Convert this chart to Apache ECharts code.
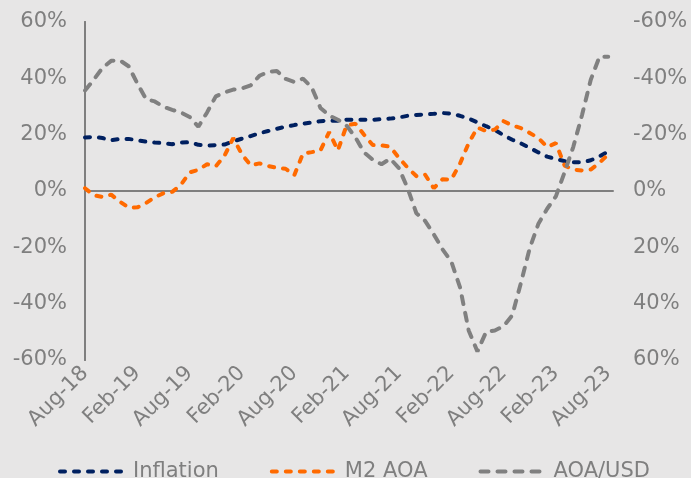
<!DOCTYPE html>
<html>
<head>
<meta charset="utf-8">
<script src="https://cdn.jsdelivr.net/npm/echarts@6/dist/echarts.min.js"></script>
<style>
html,body{margin:0;padding:0;background:#e7e6e6;}
#chart{width:691px;height:478px;}
</style>
</head>
<body>
<div id="chart"></div>
<script>
var months = ['Aug-18','Sep-18','Oct-18','Nov-18','Dec-18','Jan-19','Feb-19','Mar-19','Apr-19','May-19','Jun-19','Jul-19',
'Aug-19','Sep-19','Oct-19','Nov-19','Dec-19','Jan-20','Feb-20','Mar-20','Apr-20','May-20','Jun-20','Jul-20',
'Aug-20','Sep-20','Oct-20','Nov-20','Dec-20','Jan-21','Feb-21','Mar-21','Apr-21','May-21','Jun-21','Jul-21',
'Aug-21','Sep-21','Oct-21','Nov-21','Dec-21','Jan-22','Feb-22','Mar-22','Apr-22','May-22','Jun-22','Jul-22',
'Aug-22','Sep-22','Oct-22','Nov-22','Dec-22','Jan-23','Feb-23','Mar-23','Apr-23','May-23','Jun-23','Jul-23','Aug-23'];

var inflation = [19.0,19.2,18.8,18.0,18.5,18.5,18.0,17.5,17.2,17.0,
16.6,17.2,17.3,16.4,16.1,16.3,16.5,17.6,18.6,19.5,
20.5,21.3,22.1,22.8,23.4,23.9,24.3,24.8,25.0,24.9,
25.3,25.3,25.3,25.3,25.5,25.7,26.1,26.7,27.0,27.2,
27.4,27.7,27.4,26.7,25.7,24.4,23.0,21.7,19.8,18.2,
16.9,15.3,13.7,12.2,11.4,10.6,10.2,10.2,10.9,12.3,14.0];

var m2aoa = [1.0,-1.5,-2.1,-1.3,-3.8,-5.9,-5.8,-4.3,-2.2,-0.8,
-0.3,2.2,6.6,7.5,9.5,8.8,12.5,18.8,13.0,9.1,
9.8,8.9,8.2,7.9,5.6,13.3,13.8,14.4,20.9,14.4,
23.3,23.9,20.0,16.3,16.2,15.7,11.8,8.3,5.3,5.8,
1.0,4.2,4.0,9.7,17.0,22.5,21.3,21.8,24.8,23.3,
22.3,20.6,18.8,15.6,17.0,9.0,7.6,7.3,7.6,10.0,13.0];

// right axis (inverted) values
var aoaUsd = [-35.7,-39.5,-43.7,-46.2,-46.4,-44.3,-38.2,-32.6,-31.8,-29.9,
-28.8,-27.9,-26.3,-22.8,-27.9,-33.6,-35.0,-36.0,-36.4,-37.5,
-40.9,-42.3,-42.6,-39.8,-38.7,-39.9,-36.8,-29.5,-26.8,-25.3,
-23.2,-19.1,-13.7,-11.1,-9.5,-11.5,-8.1,-1.0,7.9,10.6,
15.4,20.7,25.0,34.1,49.5,57.0,50.0,49.5,48.0,44.1,
32.5,20.3,11.6,6.3,1.9,-6.7,-15.7,-27.0,-39.5,-47.7,-47.7];

var yTicks = {min:-60, max:60, step:20};
var labelStep = 6;

function pairs(arr){ return arr.map(function(v,i){ return [i, v]; }); }

var grey = '#7f7f7f';
var font = 'DejaVu Sans';
var xMax = 60.55;

var chart = echarts.init(document.getElementById('chart'), null, {renderer:'canvas'});
chart.setOption({
  backgroundColor: '#e7e6e6',
  animation: false,
  grid: {left:85, right:78, top:22, bottom:118, containLabel:false},
  legend: {
    left: 53, top: 456, itemGap: 51, itemWidth: 68, itemHeight: 14,
    itemStyle: {opacity: 0},
    lineStyle: {width: 4, cap: 'round'},
    textStyle: {fontSize:21, color:grey, fontFamily:font},
    data: ['Inflation','M2 AOA','AOA/USD']
  },
  xAxis: [{
    type:'value', min:0, max:xMax, interval:labelStep,
    position:'bottom',
    axisLine:{show:false, onZero:false},
    axisTick:{show:false},
    splitLine:{show:false},
    axisLabel:{
      rotate:45, margin:10, fontSize:21, color:grey, fontFamily:font,
      showMaxLabel:false,
      formatter:function(v){
        var i = Math.round(v);
        if (Math.abs(v-i) > 1e-6 || i % labelStep !== 0 || !months[i]) return '';
        return months[i];
      }
    }
  },{
    type:'value', min:0, max:xMax, interval:labelStep,
    axisLine:{show:true, onZero:true, lineStyle:{color:grey, width:2}},
    axisTick:{show:false}, axisLabel:{show:false}, splitLine:{show:false}
  }],
  yAxis: [{
    type:'value', min:yTicks.min, max:yTicks.max, interval:yTicks.step, position:'left',
    axisLine:{show:true, lineStyle:{color:grey, width:2}},
    axisTick:{show:false}, splitLine:{show:false},
    axisLabel:{margin:18, fontSize:21, color:grey, fontFamily:font, formatter:function(v){return v+'%';}}
  },{
    type:'value', min:yTicks.min, max:yTicks.max, interval:yTicks.step, position:'right', inverse:true,
    axisLine:{show:true, lineStyle:{color:grey, width:2}},
    axisTick:{show:false}, splitLine:{show:false},
    axisLabel:{margin:20, fontSize:21, color:grey, fontFamily:font, formatter:function(v){return v+'%';}}
  }],
  series: [{
    name:'Inflation', type:'line', data:pairs(inflation), xAxisIndex:0, yAxisIndex:0,
    symbol:'none', smooth:false, color:'#002060',
    lineStyle:{color:'#002060', width:4, type:[5,9], cap:'round'}
  },{
    name:'M2 AOA', type:'line', data:pairs(m2aoa), xAxisIndex:0, yAxisIndex:0,
    symbol:'none', smooth:false, color:'#ff6a00',
    lineStyle:{color:'#ff6a00', width:4, type:[5,9], cap:'round'}
  },{
    name:'AOA/USD', type:'line', data:pairs(aoaUsd), xAxisIndex:0, yAxisIndex:1,
    symbol:'none', smooth:false, color:'#808080',
    lineStyle:{color:'#808080', width:4, type:[8,9], cap:'round'}
  }]
});
</script>
</body>
</html>
